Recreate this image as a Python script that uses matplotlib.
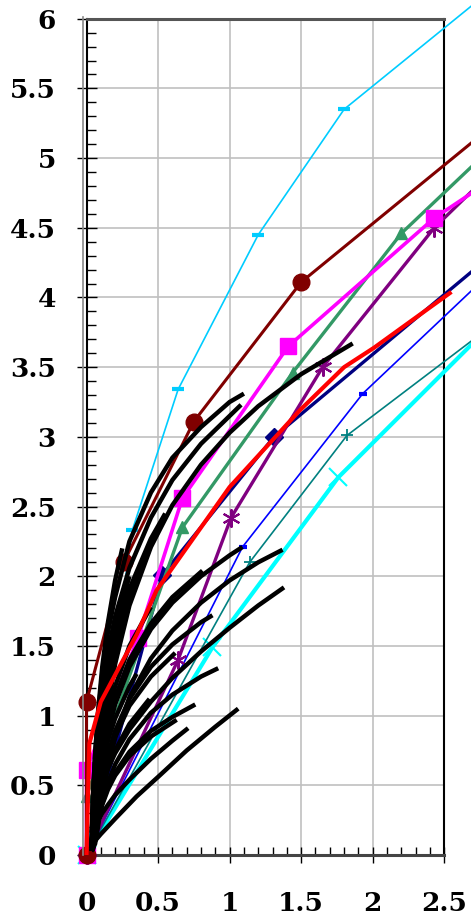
import matplotlib
matplotlib.use("Agg")
import matplotlib.pyplot as plt
from matplotlib.ticker import MultipleLocator
from matplotlib.lines import Line2D

# ---------------- data ----------------
maroon_x = [0, 0, 0.26, 0.75, 1.50, 3.0]
maroon_y = [0, 1.10, 2.10, 3.11, 4.11, 5.37]

skyblue_x = [0, 0.32, 0.64, 1.20, 1.80, 3.0]
skyblue_y = [0, 2.33, 3.34, 4.45, 5.35, 6.35]

magenta_x = [0, 0, 0.36, 0.67, 1.41, 2.43, 3.0]
magenta_y = [0, 0.61, 1.56, 2.56, 3.65, 4.57, 4.96]

green_x = [0, 0, 0.67, 1.44, 2.20, 3.0]
green_y = [0, 0.42, 2.35, 3.46, 4.46, 5.24]

purple_x = [0, 0.64, 1.01, 1.65, 2.43, 3.0]
purple_y = [0, 1.40, 2.42, 3.50, 4.50, 5.07]

navy_x = [0, 0.53, 1.31, 3.0]
navy_y = [0, 2.01, 3.00, 4.45]

red_x = [0, 0.02, 0.10, 0.35, 0.49, 1.00, 1.49, 1.80, 2.01, 2.55]
red_y = [0, 0.80, 1.10, 1.58, 1.90, 2.64, 3.19, 3.50, 3.64, 4.04]

blue_x = [0, 1.09, 1.93, 3.0]
blue_y = [0, 2.21, 3.31, 4.35]

teal_x = [0, 1.14, 1.82, 3.0]
teal_y = [0, 2.10, 3.01, 3.93]

aqua_x = [0, 0.88, 1.76, 3.0]
aqua_y = [0, 1.49, 2.71, 3.98]

black_x = [
    [0.035, 0.045, 0.06, 0.08, 0.11, 0.15, 0.2, 0.3, 0.45, 0.6, 0.8, 1.0, 1.10],
    [0.035, 0.045, 0.06, 0.08, 0.11, 0.15, 0.2, 0.3, 0.45, 0.6, 0.8, 1.0, 1.08],
    [0.035, 0.045, 0.06, 0.08, 0.11, 0.15, 0.2, 0.3, 0.45, 0.6, 0.8, 1.0, 1.2, 1.5, 1.86],
    [0.035, 0.045, 0.06, 0.08, 0.11, 0.15, 0.2, 0.3, 0.45, 0.55],
    [0.035, 0.045, 0.06, 0.08, 0.11, 0.15, 0.2, 0.3, 0.45, 0.50],
    [0.035, 0.045, 0.06, 0.08, 0.11, 0.15, 0.2, 0.3, 0.45, 0.6, 0.8, 1.0, 1.09],
    [0.035, 0.045, 0.06, 0.08, 0.11, 0.15, 0.2, 0.3, 0.45, 0.6, 0.8, 1.0, 1.2, 1.37],
    [0.035, 0.045, 0.06, 0.08, 0.11, 0.15, 0.2, 0.3, 0.45, 0.6, 0.8, 1.0, 1.2, 1.38],
    [0.035, 0.045, 0.06, 0.08, 0.11, 0.15, 0.2, 0.3, 0.45, 0.6, 0.8, 0.88],
    [0.035, 0.045, 0.06, 0.08, 0.11, 0.15, 0.2, 0.3, 0.45, 0.6, 0.8, 0.92],
    [0.035, 0.045, 0.06, 0.08, 0.11, 0.15, 0.2, 0.3, 0.45, 0.6, 0.76],
    [0.035, 0.045, 0.06, 0.08, 0.11, 0.15, 0.2, 0.3, 0.45, 0.6, 0.71],
    [0.035, 0.045, 0.06, 0.08, 0.11, 0.15, 0.2, 0.3, 0.45, 0.6, 0.63],
    [0.035, 0.05, 0.1, 0.2, 0.35, 0.5, 0.7, 0.9, 1.06],
    [0.035, 0.045, 0.06, 0.08, 0.11, 0.15, 0.2, 0.3, 0.44],
    [0.035, 0.045, 0.06, 0.08, 0.11, 0.15, 0.2, 0.3, 0.45, 0.62],
    [0.035, 0.045, 0.06, 0.08, 0.11, 0.15, 0.2, 0.3, 0.45],
    [0.035, 0.045, 0.06, 0.08, 0.11, 0.15, 0.2, 0.3, 0.45, 0.6, 0.81],
    [0.035, 0.045, 0.06, 0.08, 0.11, 0.15, 0.2, 0.3],
    [0.035, 0.045, 0.06, 0.08, 0.11, 0.15, 0.2, 0.3, 0.35],
    [0.035, 0.045, 0.06, 0.08, 0.11, 0.15, 0.2, 0.25],
]
black_y = [
    [0.05, 0.42, 0.72, 1.00, 1.30, 1.60, 1.85, 2.25, 2.60, 2.85, 3.07, 3.25, 3.31],
    [0.05, 0.41, 0.66, 0.91, 1.19, 1.46, 1.71, 2.06, 2.42, 2.69, 2.95, 3.15, 3.23],
    [0.03, 0.06, 0.15, 0.43, 0.75, 1.07, 1.37, 1.79, 2.21, 2.51, 2.80, 3.03, 3.22, 3.45, 3.67],
    [0.05, 0.22, 0.48, 0.74, 1.02, 1.29, 1.55, 1.91, 2.27, 2.45],
    [0.03, 0.11, 0.37, 0.64, 0.93, 1.21, 1.48, 1.85, 2.22, 2.32],
    [0.03, 0.08, 0.27, 0.46, 0.68, 0.88, 1.08, 1.35, 1.62, 1.81, 2.00, 2.15, 2.21],
    [0.03, 0.05, 0.08, 0.20, 0.42, 0.64, 0.84, 1.13, 1.41, 1.61, 1.81, 1.97, 2.10, 2.19],
    [0.05, 0.20, 0.30, 0.40, 0.50, 0.62, 0.73, 0.90, 1.10, 1.27, 1.46, 1.63, 1.79, 1.92],
    [0.03, 0.07, 0.23, 0.39, 0.56, 0.73, 0.89, 1.12, 1.35, 1.51, 1.67, 1.72],
    [0.03, 0.05, 0.10, 0.23, 0.38, 0.52, 0.65, 0.83, 1.02, 1.15, 1.28, 1.34],
    [0.03, 0.04, 0.15, 0.25, 0.37, 0.49, 0.59, 0.74, 0.89, 0.99, 1.08],
    [0.05, 0.17, 0.20, 0.24, 0.30, 0.36, 0.43, 0.54, 0.69, 0.82, 0.91],
    [0.03, 0.04, 0.14, 0.24, 0.36, 0.47, 0.57, 0.71, 0.85, 0.95, 0.97],
    [0.03, 0.09, 0.15, 0.26, 0.42, 0.56, 0.75, 0.92, 1.05],
    [0.03, 0.06, 0.19, 0.32, 0.47, 0.62, 0.75, 0.94, 1.12],
    [0.03, 0.06, 0.21, 0.37, 0.54, 0.70, 0.85, 1.07, 1.28, 1.45],
    [0.05, 0.18, 0.38, 0.58, 0.80, 1.01, 1.21, 1.50, 1.78],
    [0.05, 0.16, 0.35, 0.54, 0.74, 0.95, 1.13, 1.40, 1.66, 1.85, 2.04],
    [0.08, 0.30, 0.56, 0.82, 1.10, 1.38, 1.64, 2.00],
    [0.03, 0.14, 0.30, 0.47, 0.65, 0.82, 0.98, 1.21, 1.30],
    [0.16, 0.42, 0.72, 1.02, 1.35, 1.67, 1.97, 2.20],
]

x_ticks = [0, 0.5, 1, 1.5, 2, 2.5]
y_ticks = [0, 0.5, 1, 1.5, 2, 2.5, 3, 3.5, 4, 4.5, 5, 5.5, 6]

# ---------------- figure ----------------
W, H, DPI = 471, 916, 100
fig = plt.figure(figsize=(W / DPI, H / DPI), dpi=DPI)
ax = fig.add_axes([86.5 / W, 1 - 855 / H, (444.3 - 86.5) / W, (855 - 18.7) / H])
ax.set_xlim(0, 2.5)
ax.set_ylim(0, 6)

ax.grid(True, which="major", color="#c0c0c0", linewidth=1.2, zorder=0)
ax.set_axisbelow(True)

def series(x, y, color, lw, marker=None, ms=0, mew=1.0, z=3):
    ax.plot(x, y, color=color, lw=lw, marker=marker, ms=ms, mew=mew,
            mfc=color, mec=color, clip_on=False, zorder=z,
            solid_capstyle="butt")

series(aqua_x, aqua_y, "#00FFFF", 3.0, "x", 13, 1.5)
series(teal_x, teal_y, "#008080", 1.2, "+", 9, 1.3)
series(blue_x, blue_y, "#0000FF", 1.2, "_", 6, 3.0)
series(skyblue_x, skyblue_y, "#00CCFF", 1.2, "_", 9, 3.0)
series(navy_x, navy_y, "#000080", 2.4, "D", 9)
series(purple_x, purple_y, "#800080", 2.4, (6, 2, 0), 13, 1.5)
series(green_x, green_y, "#339966", 2.4, "^", 9)
series(magenta_x, magenta_y, "#FF00FF", 2.6, "s", 11)
series(maroon_x, maroon_y, "#800000", 2.2, "o", 12)

for bx, by in zip(black_x, black_y):
    ax.plot(bx, by, color="black", lw=3.2, clip_on=False, zorder=4,
            solid_capstyle="butt", solid_joinstyle="round")

series(red_x, red_y, "#FF0000", 3.0, z=5)

# ticks
ax.xaxis.set_minor_locator(MultipleLocator(0.1))
ax.yaxis.set_minor_locator(MultipleLocator(0.1))
ax.set_xticks(x_ticks)
ax.set_yticks(y_ticks)
ax.set_xticklabels([f"{v:g}" for v in x_ticks])
ax.set_yticklabels([f"{v:g}" for v in y_ticks])

for lab in ax.get_xticklabels() + ax.get_yticklabels():
    lab.set_fontfamily("DejaVu Serif")
    lab.set_fontweight("bold")
    lab.set_fontsize(19)

ax.tick_params(axis="y", which="major", direction="inout", length=15, width=1.0,
               pad=14.5, color="black")
ax.tick_params(axis="y", which="minor", direction="in", length=6.5, width=1.0)
ax.tick_params(axis="x", which="major", direction="inout", length=12, width=1.0,
               pad=20, color="black")
ax.tick_params(axis="x", which="minor", direction="in", length=6, width=1.0)

for s in ["left", "right"]:
    ax.spines[s].set_color("black")
    ax.spines[s].set_linewidth(1.5)
ax.spines["bottom"].set_color("#444444")
ax.spines["bottom"].set_linewidth(2.2)
ax.spines["top"].set_color("#555555")
ax.spines["top"].set_linewidth(2.2)

# gray outer double line on left spine
fig.add_artist(Line2D([83.3 / W, 83.3 / W], [1 - 855 / H, 1 - 16.5 / H],
                      transform=fig.transFigure, color="#888888", lw=1.2))

fig.savefig("out.png", dpi=DPI)
